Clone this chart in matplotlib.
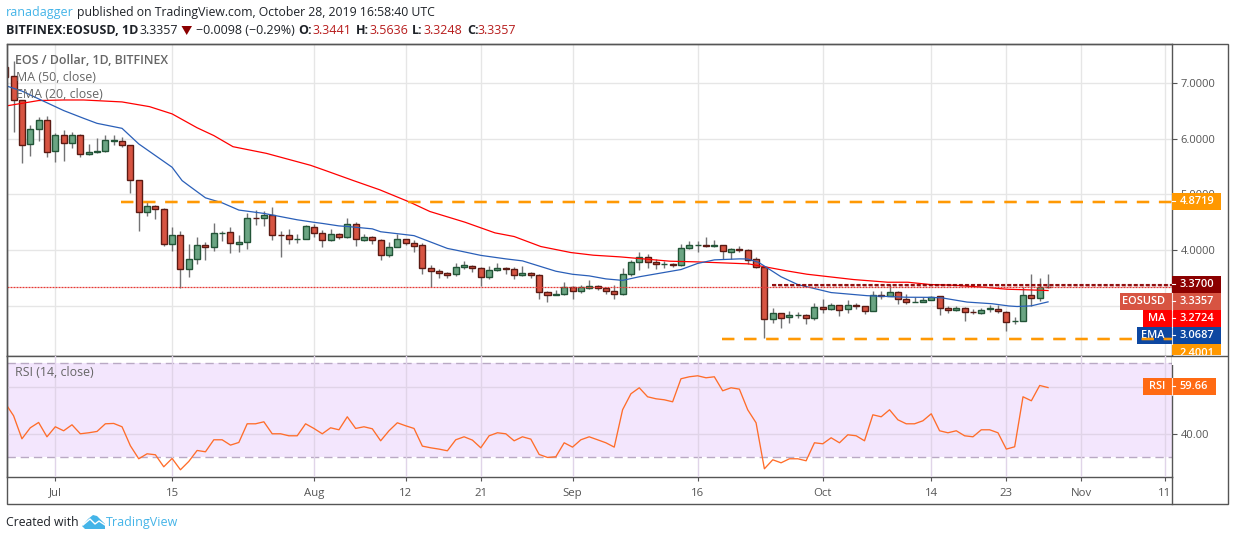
import numpy as np
import pandas as pd
import matplotlib
matplotlib.use("Agg")
from matplotlib import pyplot as plt
from matplotlib import transforms as mtrans
from matplotlib.patches import Rectangle, Polygon

W, H = 1234, 540

# daily candles, 25 Jun to 28 Oct 2019
opens = [7.289, 7.133, 6.701, 5.903, 6.173, 6.341, 5.777, 6.065, 5.921, 6.071, 5.723, 5.759, 5.783, 5.957, 5.963, 5.891,
         5.264, 4.688, 4.796, 4.742, 4.112, 4.274, 3.662, 3.842, 4.094, 4.058, 4.304, 4.328, 4.112, 4.148, 4.580, 4.580,
         4.634, 4.274, 4.274, 4.196, 4.202, 4.418, 4.310, 4.184, 4.292, 4.238, 4.472, 4.184, 4.238, 4.184, 3.914, 4.058,
         4.202, 4.130, 4.094, 3.680, 3.626, 3.590, 3.572, 3.698, 3.716, 3.680, 3.518, 3.644, 3.680, 3.662, 3.554, 3.590,
         3.554, 3.248, 3.194, 3.212, 3.338, 3.266, 3.320, 3.356, 3.320, 3.266, 3.212, 3.572, 3.788, 3.878, 3.788, 3.746,
         3.752, 3.734, 4.040, 4.088, 4.094, 4.076, 4.088, 3.968, 4.022, 4.004, 3.842, 3.698, 2.762, 2.870, 2.798, 2.828,
         2.834, 2.780, 2.978, 2.942, 3.014, 2.942, 3.014, 2.996, 2.906, 3.194, 3.176, 3.248, 3.122, 3.062, 3.068, 3.104,
         3.176, 2.960, 2.924, 2.960, 2.894, 2.864, 2.948, 2.942, 2.888, 2.720, 2.726, 3.194, 3.140, 3.3441]
highs = [7.349, 7.409, 6.701, 6.257, 6.401, 6.413, 6.113, 6.161, 6.125, 6.089, 5.909, 6.017, 6.077, 6.065, 6.041, 5.897,
         5.264, 4.868, 4.808, 4.760, 4.424, 4.352, 4.112, 4.244, 4.154, 4.496, 4.352, 4.424, 4.280, 4.664, 4.724, 4.712,
         4.784, 4.352, 4.388, 4.298, 4.460, 4.472, 4.364, 4.388, 4.316, 4.586, 4.514, 4.292, 4.250, 4.202, 4.154, 4.292,
         4.208, 4.184, 4.136, 3.734, 3.662, 3.602, 3.770, 3.812, 3.740, 3.698, 3.722, 3.776, 3.698, 3.698, 3.722, 3.608,
         3.572, 3.266, 3.290, 3.428, 3.350, 3.380, 3.470, 3.374, 3.338, 3.380, 3.680, 3.824, 3.974, 3.932, 3.848, 3.812,
         3.770, 4.112, 4.172, 4.166, 4.244, 4.184, 4.100, 4.040, 4.076, 4.022, 3.884, 3.704, 2.966, 2.870, 2.912, 2.894,
         2.852, 3.056, 3.128, 3.056, 3.014, 3.104, 3.056, 3.002, 3.266, 3.272, 3.392, 3.266, 3.218, 3.152, 3.152, 3.182,
         3.176, 3.002, 2.996, 2.972, 2.936, 2.960, 3.020, 3.014, 2.900, 2.792, 3.332, 3.578, 3.506, 3.5636]
lows = [7.079, 6.119, 5.561, 5.699, 5.969, 5.669, 5.579, 5.597, 5.837, 5.681, 5.711, 5.753, 5.771, 5.897, 5.849, 5.024,
        4.340, 4.610, 4.556, 4.070, 3.980, 3.320, 3.524, 3.746, 3.818, 3.992, 4.160, 3.944, 3.962, 4.016, 4.448, 4.430,
        4.178, 3.872, 4.106, 4.124, 4.196, 4.232, 4.052, 4.160, 4.196, 4.226, 4.070, 4.160, 4.106, 3.818, 3.872, 4.052,
        4.094, 3.962, 3.566, 3.338, 3.494, 3.494, 3.530, 3.656, 3.602, 3.362, 3.476, 3.620, 3.566, 3.476, 3.542, 3.494,
        3.116, 3.062, 3.188, 3.200, 3.116, 3.224, 3.308, 3.284, 3.206, 3.116, 3.200, 3.530, 3.638, 3.674, 3.656, 3.686,
        3.692, 3.710, 4.028, 3.962, 4.052, 4.064, 3.836, 3.848, 3.962, 3.752, 3.674, 2.414, 2.696, 2.594, 2.696, 2.780,
        2.678, 2.738, 2.876, 2.924, 2.822, 2.876, 2.936, 2.858, 2.900, 3.128, 3.170, 3.038, 3.038, 3.062, 3.062, 3.098,
        2.828, 2.864, 2.900, 2.720, 2.846, 2.852, 2.882, 2.864, 2.540, 2.666, 2.720, 3.002, 3.092, 3.3248]
closes = [7.121, 6.701, 5.891, 6.173, 6.341, 5.765, 6.065, 5.927, 6.065, 5.729, 5.765, 5.783, 5.981, 5.981, 5.885, 5.264,
          4.688, 4.796, 4.736, 4.112, 4.274, 3.662, 3.842, 4.094, 4.052, 4.310, 4.310, 4.130, 4.148, 4.580, 4.574, 4.634,
          4.274, 4.268, 4.202, 4.202, 4.436, 4.310, 4.184, 4.292, 4.238, 4.472, 4.202, 4.238, 4.184, 3.914, 4.058, 4.202,
          4.130, 4.076, 3.680, 3.626, 3.590, 3.548, 3.698, 3.734, 3.680, 3.518, 3.644, 3.680, 3.662, 3.554, 3.590, 3.554,
          3.248, 3.194, 3.212, 3.332, 3.266, 3.338, 3.356, 3.320, 3.266, 3.212, 3.572, 3.788, 3.878, 3.788, 3.752, 3.752,
          3.728, 4.040, 4.094, 4.094, 4.070, 4.094, 3.986, 4.022, 3.998, 3.824, 3.698, 2.762, 2.870, 2.780, 2.834, 2.834,
          2.780, 2.978, 2.942, 3.014, 2.924, 3.014, 2.996, 2.906, 3.194, 3.176, 3.248, 3.122, 3.068, 3.068, 3.104, 3.158,
          2.960, 2.924, 2.960, 2.888, 2.888, 2.924, 2.954, 2.906, 2.708, 2.726, 3.194, 3.140, 3.338, 3.3357]

# day number (0 = 25 Jun) and value
ma_day = [0, 4, 7, 9.4, 14, 17.3, 20, 23, 25, 27.3, 31.3, 36.6, 38.4, 41.7, 44.9, 48.5, 50.9, 55.1, 58.7, 61, 64.2,
          67.8, 70.5, 73.7, 79.7, 82.9, 85, 89.1, 90.9, 93.7, 96.1, 101.7, 105.8, 108.2, 110.9, 113.7, 117.3, 120.1,
          122.8, 125]
ma_val = [6.59, 6.69, 6.70, 6.70, 6.665, 6.58, 6.45, 6.20, 6.06, 5.86, 5.74, 5.525, 5.43, 5.252, 5.084, 4.862, 4.694,
          4.502, 4.31, 4.244, 4.064, 3.956, 3.908, 3.878, 3.80, 3.788, 3.776, 3.752, 3.704, 3.626, 3.566, 3.47, 3.422,
          3.422, 3.38, 3.368, 3.332, 3.296, 3.284, 3.2724]
ema_day = [0, 2, 4, 7, 9.4, 11, 14, 16, 20, 21.2, 22, 24, 26, 28, 31, 35, 37, 38, 40, 41, 44, 45, 49, 53, 54, 57, 60,
           62, 66, 68, 70, 72, 74, 76, 81, 83, 85, 88, 89, 90.3, 93, 95, 99, 103.3, 108, 111, 112.3, 115.3, 118.3,
           120.3, 121.3, 123, 125]
ema_val = [6.96, 6.86, 6.72, 6.51, 6.37, 6.28, 6.19, 5.91, 5.49, 5.25, 5.16, 4.94, 4.85, 4.72, 4.66, 4.545, 4.50, 4.48,
           4.435, 4.425, 4.382, 4.33, 4.26, 4.03, 4.00, 3.905, 3.842, 3.806, 3.62, 3.565, 3.536, 3.482, 3.455, 3.52,
           3.65, 3.76, 3.824, 3.842, 3.84, 3.78, 3.52, 3.38, 3.236, 3.18, 3.152, 3.15, 3.14, 3.065, 3.035, 2.995,
           2.985, 2.997, 3.0687]

rsi = [53.05, 47.66, 37.87, 42.55, 44.82, 38.72, 42.98, 41.28, 43.83, 40.0, 40.43, 41.0, 44.25, 44.40, 42.98, 34.9,
       29.37, 31.49, 31.07, 25.96, 29.51, 24.69, 28.23, 32.91, 32.34, 37.45, 37.45, 35.18, 36.31, 44.25, 44.25, 45.1,
       40.0, 40.0, 39.15, 39.15, 44.25, 42.27, 40.0, 42.55, 41.70, 47.23, 42.27, 42.98, 42.13, 37.02, 41.28, 44.68,
       43.40, 42.27, 34.75, 34.04, 33.48, 32.77, 37.45, 38.72, 37.31, 34.04, 39.15, 40.43, 40.0, 37.02, 38.72, 37.73,
       31.21, 29.93, 30.22, 36.17, 34.33, 37.45, 38.72, 37.45, 36.17, 34.33, 50.21, 57.02, 59.57, 55.74, 54.89, 54.46,
       53.61, 63.40, 64.25, 64.67, 63.82, 64.25, 58.29, 59.57, 59.0, 50.21, 44.68, 25.11, 28.94, 27.66, 29.37, 29.37,
       28.52, 36.17, 35.75, 38.30, 36.17, 39.58, 39.15, 37.02, 48.08, 47.23, 50.21, 45.96, 44.25, 44.25, 45.53, 48.51,
       41.28, 40.43, 41.28, 39.15, 38.72, 41.70, 41.70, 40.43, 33.48, 34.47, 55.74, 54.04, 60.56, 59.66]

price_ticks = [3, 4, 5, 6, 7]
price_labels = ["", "4.0000", "5.0000", "6.0000", "7.0000"]
rsi_ticks = [40, 60]
rsi_labels = ["40.00", ""]
time_days = [6, 20, 37, 48, 57, 68, 83, 98, 111, 120, 129, 139]
time_labels = ["Jul", "15", "Aug", "12", "21", "Sep", "16", "Oct", "14", "23", "Nov", "11"]

resistance = 4.8719
support = 2.4001
res2 = 3.37
last_price = 3.3357
last_ma = 3.2724
last_ema = 3.0687
last_rsi = 59.66

plt.rcParams['font.family'] = ['Open Sans', 'DejaVu Sans']
GREY = '#555555'
GRID = '#e6e6e6'
ORANGE = '#ff9800'

fig = plt.figure(figsize=(W / 100, H / 100), dpi=100, facecolor='white')
# transform for plain pixel positions, y going down
px = mtrans.Affine2D().scale(1, -1).translate(0, H)

def make_axes(l, t, r, b):
    return fig.add_axes([l / W, 1 - b / H, (r - l) / W, (b - t) / H])

L, R = 6.5, 1171.5
ax = make_axes(L, 43.5, R, 355.5)
ax2 = make_axes(L, 355.5, R, 476.5)
xlim = (0.15, 139.8)

days = np.arange(len(opens))
opens_a = np.array(opens)
closes_a = np.array(closes)
up = closes_a >= opens_a

ax.set_xlim(*xlim)
ax.set_ylim(2.104, 7.716)
ax.vlines(days, lows, highs, color='#737375', lw=1.0, zorder=2)
bot = np.minimum(opens_a, closes_a)
hgt = np.abs(opens_a - closes_a)
ax.bar(days[up], hgt[up], bottom=bot[up], width=0.72, color='#6ba583', edgecolor='#225437', lw=1.0, zorder=2.5)
ax.bar(days[~up], hgt[~up], bottom=bot[~up], width=0.72, color='#d75442', edgecolor='#5b1a13', lw=1.0, zorder=2.5)
ax.plot(ma_day, ma_val, color='#ff0000', lw=0.9, zorder=3)
ax.plot(ema_day, ema_val, color='#2a5fb8', lw=0.9, zorder=3)

ax.axhline(last_price, color='#e53935', lw=0.9, ls=(0, (1.6, 0.8)), zorder=3)

def dashed(x0, val, color, lw, on, off, z, alpha=1.0):
    # on and off are in points; matplotlib scales a dash pattern by the line width
    ax.plot([x0, xlim[1]], [val, val], color=color, lw=lw, ls=(0, (on / lw, off / lw)), zorder=z, alpha=alpha)

dashed(13.83, resistance, ORANGE, 2.6, 8.9, 7.0, 5.9, alpha=0.35)
dashed(13.83, resistance, ORANGE, 1.4, 8.9, 7.0, 6)
dashed(85.9, support, ORANGE, 2.6, 8.9, 7.0, 5.9, alpha=0.35)
dashed(85.9, support, ORANGE, 1.4, 8.9, 7.0, 6)
dashed(91.9, res2, '#8b0000', 2.4, 2.9, 1.44, 3.9, alpha=0.3)
dashed(91.9, res2, '#8b0000', 1.3, 2.9, 1.44, 4)

for a in (ax, ax2):
    a.set_xticks(time_days)
    a.grid(True, color=GRID, lw=1.0, zorder=0)
    a.set_axisbelow(True)
    for s in a.spines.values():
        s.set_color(GREY)
        s.set_linewidth(1.0)
ax.set_yticks(price_ticks)
ax.set_yticklabels(price_labels, fontsize=8.0, color=GREY)
ax.yaxis.tick_right()
ax.tick_params(axis='y', length=3.5, width=0.8, color=GREY, pad=3)
ax.tick_params(axis='x', length=0, labelbottom=False)

ax2.set_xlim(*xlim)
ax2.set_ylim(21.83, 73.3)
ax2.axhspan(30, 70, color='#f3e6fd', lw=0, zorder=0.2)
ax2.set_axisbelow(False)
ax2.grid(True, color='#e0d4e8', lw=1.0, zorder=0.4)
ax2.axhline(70, color='#b9a9c4', lw=1.0, ls=(0, (6, 3.5)), zorder=1)
ax2.axhline(30, color='#b9a9c4', lw=1.0, ls=(0, (6, 3.5)), zorder=1)
ax2.plot(days, rsi, color='#ff6d2a', lw=0.95, zorder=3)
ax2.set_yticks(rsi_ticks)
ax2.set_yticklabels(rsi_labels, fontsize=8.0, color=GREY)
ax2.yaxis.tick_right()
ax2.tick_params(axis='y', length=3.5, width=0.8, color=GREY, pad=3)
ax2.set_xticklabels(time_labels, fontsize=8.2, color=GREY)
ax2.tick_params(axis='x', length=3, width=0.8, color=GREY, pad=5)

# outer frame
fig.add_artist(Rectangle((6.5, 43.5), 1221, 460, transform=px, fill=False, ec=GREY, lw=1.0))
fig.add_artist(plt.Line2D([R, R], [476.5, 503.5], transform=px, color=GREY, lw=1.0))

# price labels, boxes go on the axes so the orange dashes stay on top
def tag(a, x0, y, txt, color, name=None, right=1221, text_x=1197, h=17):
    top = y - h / 2
    a.add_patch(Rectangle((x0, top), right - x0, h, transform=px, color=color, lw=0, clip_on=False, zorder=5))
    a.plot([R, R + 3.5], [y, y], transform=px, color='white', lw=0.8, clip_on=False, zorder=5.5)
    a.text(text_x, y + 0.3, txt, transform=px, color='white', fontsize=7.9, fontweight='semibold', ha='center', va='center',
           clip_on=False, zorder=5.5)
    if name:
        a.plot([R, R], [top, top + h], transform=px, color='white', lw=0.8, alpha=0.8, clip_on=False, zorder=5.2)
        a.text(1165, y + 0.3, name, transform=px, color='white', fontsize=7.9, fontweight='semibold', ha='right', va='center',
               clip_on=False, zorder=5.5)

tag(ax, R, 201, f"{resistance:.4f}", ORANGE)
tag(ax, R, 284, f"{res2:.4f}", '#8b0000')
tag(ax, 1120, 301, f"{last_price:.4f}", '#d75442', 'EOSUSD')
tag(ax, 1143, 318, f"{last_ma:.4f}", '#ff0000', 'MA')
tag(ax, 1137, 335, f"{last_ema:.4f}", '#0d47a1', 'EMA')
ax.add_patch(Rectangle((R, 344), 1221 - R, 11, transform=px, color=ORANGE, lw=0, clip_on=False, zorder=5))
fig.text(1197 / W, 1 - 353 / H, f"{support:.4f}", color='white', fontsize=7.9, fontweight='semibold', ha='center', va='center', zorder=6)
fig.add_artist(Rectangle((1172, 356), 54.5, 9, transform=px, color='white', lw=0, zorder=7))
fig.add_artist(plt.Line2D([R, 1227], [355.5, 355.5], transform=px, color=GREY, lw=1.0, zorder=8))

tag(ax2, 1143, 386.3, f"{last_rsi:.2f}", '#ff6a13', 'RSI', right=1216, text_x=1194)

# legend text
leg = '#666666'
fig.text(15 / W, 1 - 61 / H, "EOS / Dollar, 1D, BITFINEX", color=leg, fontsize=8.95, fontweight='semibold', va='center', zorder=9)
fig.text(16 / W, 1 - 78 / H, "MA (50, close)", color=leg, fontsize=8.9, va='center', zorder=9)
fig.text(16 / W, 1 - 95 / H, "EMA (20, close)", color=leg, fontsize=8.9, va='center', zorder=9)
fig.text(15 / W, 1 - 372.5 / H, "RSI (14, close)", color=leg, fontsize=8.9, va='center', zorder=9)

# header
blue = '#44b4e8'
dark = '#1e2228'
val_red = '#b71c1c'
def head(x, y, s, size=9, **kw):
    kw.setdefault('color', dark)
    fig.text(x / W, 1 - y / H, s, fontsize=size, va='center', **kw)

head(6, 12.5, "ranadagger", color=blue)
head(77, 12.5, "published on TradingView.com, October 28, 2019 16:58:40 UTC", size=8.8)
head(6, 30, "BITFINEX:EOSUSD, 1D", fontweight='bold')
head(139, 30, f"{last_price:.4f}")
fig.add_artist(Polygon([[181.5, 26], [192, 26], [186.7, 35]], transform=px, color='#8b0000', lw=0))
head(196, 30, "\u22120.0098 (\u22120.29%)")
head(298, 30, "O:", fontweight='bold')
head(312.5, 30, f"{opens[-1]:.4f}", color=val_red)
head(355.5, 30, "H:", fontweight='bold')
head(370, 30, f"{highs[-1]:.4f}", color=val_red)
head(412, 30, "L:", fontweight='bold')
head(423, 30, f"{lows[-1]:.4f}", color=val_red)
head(467, 30, "C:", fontweight='bold')
head(478, 30, f"{closes[-1]:.4f}", color=val_red)

# footer
head(6, 522.5, "Created with", size=8.85)
head(106, 522.5, "TradingView", color=blue)
fig.add_artist(Polygon([[82, 526], [88, 519], [93, 515], [97, 516], [105, 524], [105, 529], [85, 529]], transform=px, color=blue, lw=0))
fig.add_artist(plt.Line2D([83, 90, 95, 99, 105], [525, 519, 524, 521, 525], transform=px, color='white', lw=1.0))

fig.savefig('out.png', dpi=100)
